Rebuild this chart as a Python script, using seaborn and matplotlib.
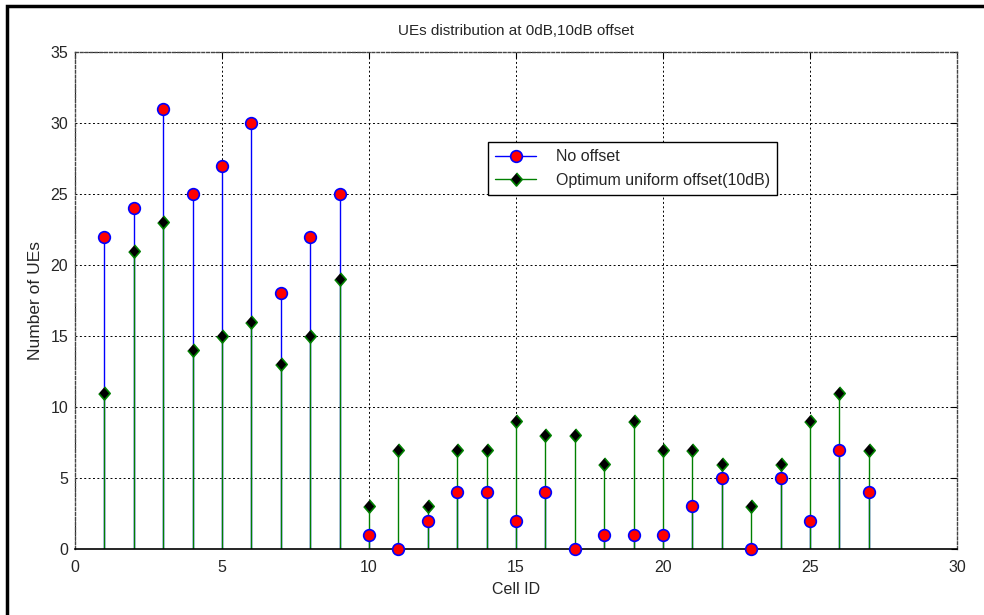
import numpy as np
import pandas as pd
import matplotlib
matplotlib.use("Agg")
import matplotlib.pyplot as plt
from matplotlib.lines import Line2D
from matplotlib.patches import Rectangle
from matplotlib.legend_handler import HandlerLine2D
from matplotlib.markers import MarkerStyle
import seaborn as sns

# Cell IDs and UE counts per cell
cell_ids = list(range(1, 28))
no_offset = [22, 24, 31, 25, 27, 30, 18, 22, 25, 1, 0, 2, 4, 4, 2, 4, 0, 1, 1, 1,
             3, 5, 0, 5, 2, 7, 4]
uniform_offset = [11, 21, 23, 14, 15, 16, 13, 15, 19, 3, 7, 3, 7, 7, 9, 8, 8, 6, 9, 7,
                  7, 6, 3, 6, 9, 11, 7]

series_names = ["No offset", "Optimum uniform offset(10dB)"]
title_text = "UEs distribution at 0dB,10dB offset"
x_label = "Cell ID"
y_label = "Number of UEs"
x_ticks = [0, 5, 10, 15, 20, 25, 30]
y_ticks = [0, 5, 10, 15, 20, 25, 30, 35]

df = pd.DataFrame({"cell": cell_ids, "no_offset": no_offset,
                   "uniform_offset": uniform_offset})

sns.set_style("white")
plt.rcParams["font.family"] = ["Liberation Sans", "DejaVu Sans"]

fig = plt.figure(figsize=(9.84, 6.15), dpi=100)
ax = fig.add_axes([0.0762, 0.1073, 0.8964, 0.8081])

blue = "#0000ff"
green = "#008000"
diamond = MarkerStyle([(0, 1), (0.87, 0), (0, -1), (-0.87, 0)])

# stems
ax.vlines(df["cell"], 0, df["no_offset"], colors=blue, linewidth=1.0, zorder=2)
ax.vlines(df["cell"], 0, df["uniform_offset"], colors=green, linewidth=1.0, zorder=2.1)

# stem heads
sns.scatterplot(data=df, x="cell", y="no_offset", marker="o", s=8.4 ** 2,
                color="red", edgecolor=blue, linewidth=1.2, ax=ax, zorder=3,
                legend=False, clip_on=False)
sns.scatterplot(data=df, x="cell", y="uniform_offset", marker=diamond, s=9.4 ** 2,
                color="black", edgecolor=green, linewidth=1.2, ax=ax, zorder=3,
                legend=False, clip_on=False)

ax.set_xlim(0, 30)
ax.set_ylim(0, 35)
ax.set_xticks(x_ticks)
ax.set_yticks(y_ticks)
ax.set_xlabel(x_label, fontsize=11.5, labelpad=5)
ax.set_ylabel(y_label, fontsize=12.5, labelpad=5)
ax.set_title(title_text, fontsize=11, pad=12)

ax.grid(True, linestyle=(0, (2, 2.5)), color="black", linewidth=0.7)
ax.tick_params(axis="both", direction="in", length=4, width=0.8, labelsize=11.5,
               top=True, right=True, color="black")
ax.tick_params(axis="x", pad=8)
ax.tick_params(axis="y", pad=5)

for side in ["left", "top", "right"]:
    ax.spines[side].set_linestyle((0, (2, 1.5)))
    ax.spines[side].set_color("#444444")
    ax.spines[side].set_linewidth(1.0)
ax.spines["bottom"].set_color("black")
ax.spines["bottom"].set_linewidth(1.2)


class EndMarkerHandler(HandlerLine2D):
    # line across the handle with the marker at its right end
    def get_xdata(self, legend, xdescent, ydescent, width, height, fontsize):
        xdata = np.array([-xdescent, -xdescent + width])
        return xdata, np.array([-xdescent + width])


handles = [
    Line2D([], [], color=blue, linewidth=1.0, marker="o", markersize=8.4,
           markerfacecolor="red", markeredgecolor=blue, markeredgewidth=1.2),
    Line2D([], [], color=green, linewidth=1.0, marker=diamond, markersize=9.4,
           markerfacecolor="black", markeredgecolor=green, markeredgewidth=1.2),
]
leg = ax.legend(handles, series_names, loc="upper left",
                bbox_to_anchor=(0.468, 0.819), borderaxespad=0, fontsize=11.5,
                frameon=True, fancybox=False, framealpha=1, edgecolor="black",
                handlelength=2.6, handletextpad=1.2, borderpad=0.45,
                labelspacing=0.55,
                handler_map={Line2D: EndMarkerHandler()})
leg.get_frame().set_linewidth(1.0)
leg.set_zorder(5)

# outer frame of the figure
fig.patches.append(Rectangle((6.5 / 984, -0.2), 1.5, 1.2 - 5.5 / 615,
                             transform=fig.transFigure, fill=False,
                             edgecolor="black", linewidth=2.5, zorder=10))

fig.savefig("out.png", dpi=100)
